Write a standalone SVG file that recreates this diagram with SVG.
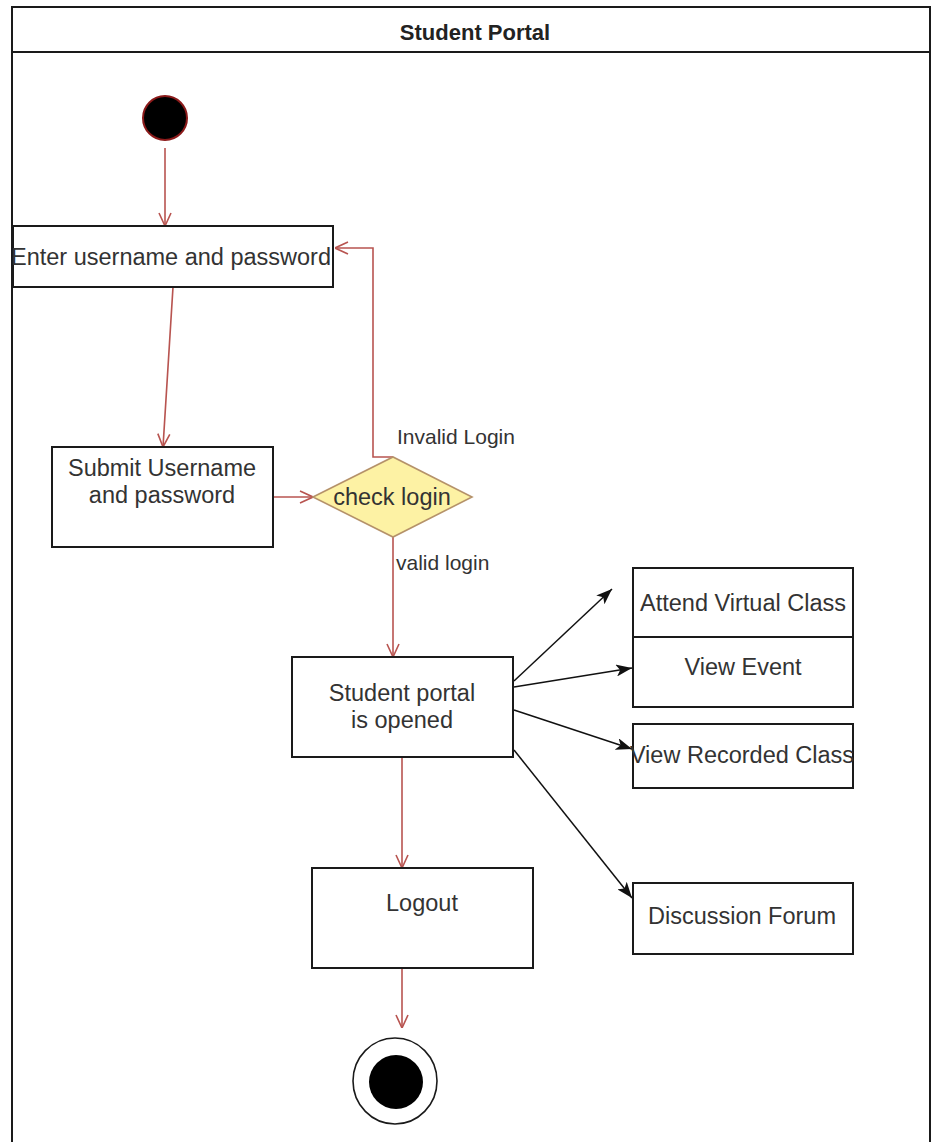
<svg xmlns="http://www.w3.org/2000/svg" width="931" height="1142" viewBox="0 0 931 1142">
  <style>
    .box { fill: #ffffff; stroke: #1a1a1a; stroke-width: 2; }
    .lbl { font-family: "Liberation Sans", Arial, sans-serif; font-size: 23.5px; fill: #333333; text-anchor: middle; }
    .edge-lbl { font-family: "Liberation Sans", Arial, sans-serif; font-size: 21px; fill: #333333; }
    .title { font-family: "Liberation Sans", Arial, sans-serif; font-size: 22px; font-weight: bold; fill: #222222; text-anchor: middle; }
    .flow { fill: none; stroke: #b85450; stroke-width: 1.6; }
    .branch { fill: none; stroke: #111111; stroke-width: 1.5; }
  </style>
  <defs>
    <marker id="openRed" viewBox="0 0 14 14" refX="14" refY="7" markerWidth="14" markerHeight="14" markerUnits="userSpaceOnUse" orient="auto">
      <path d="M1,1 L14,7 L1,13" fill="none" stroke="#b85450" stroke-width="1.6"/>
    </marker>
    <marker id="solidBlack" viewBox="0 0 16 12" refX="16" refY="6" markerWidth="16" markerHeight="12" markerUnits="userSpaceOnUse" orient="auto">
      <path d="M0,0 L16,6 L0,12 L4,6 Z" fill="#111111"/>
    </marker>
  </defs>

  <rect width="931" height="1142" fill="#ffffff"/>

  <!-- swimlane frame -->
  <g id="lane">
    <rect x="12" y="7" width="918" height="1150" fill="none" stroke="#1a1a1a" stroke-width="2"/>
    <line x1="12" y1="52" x2="930" y2="52" stroke="#1a1a1a" stroke-width="2"/>
    <text class="title" x="475" y="40">Student Portal</text>
  </g>

  <!-- connectors -->
  <g id="connectors">
    <line class="flow" x1="165" y1="148" x2="165" y2="226" marker-end="url(#openRed)"/>
    <line class="flow" x1="173" y1="287" x2="163" y2="447" marker-end="url(#openRed)"/>
    <line class="flow" x1="273" y1="497" x2="313" y2="497" marker-end="url(#openRed)"/>
    <polyline class="flow" points="393,457 373,457 373,248 335,248" marker-end="url(#openRed)"/>
    <line class="flow" x1="393" y1="537" x2="393" y2="657" marker-end="url(#openRed)"/>
    <line class="flow" x1="402" y1="757" x2="402" y2="868" marker-end="url(#openRed)"/>
    <line class="flow" x1="402" y1="968" x2="402" y2="1028" marker-end="url(#openRed)"/>

    <line class="branch" x1="514" y1="681" x2="612" y2="589" marker-end="url(#solidBlack)"/>
    <line class="branch" x1="514" y1="687" x2="632" y2="668" marker-end="url(#solidBlack)"/>
    <line class="branch" x1="514" y1="710" x2="632" y2="749" marker-end="url(#solidBlack)"/>
    <line class="branch" x1="514" y1="750" x2="632" y2="898" marker-end="url(#solidBlack)"/>

    <text class="edge-lbl" x="397" y="444">Invalid Login</text>
    <text class="edge-lbl" x="396" y="570">valid login</text>
  </g>

  <!-- nodes -->
  <g id="start">
    <circle cx="165" cy="118" r="22" fill="#000000" stroke="#8b1a1a" stroke-width="2"/>
  </g>

  <g id="enter-credentials">
    <rect class="box" x="13" y="226" width="320" height="61"/>
    <text class="lbl" x="171" y="265">Enter username and password</text>
  </g>

  <g id="submit-credentials">
    <rect class="box" x="52" y="447" width="221" height="100"/>
    <text class="lbl" x="162" y="476">Submit Username</text>
    <text class="lbl" x="162" y="503">and password</text>
  </g>

  <g id="check-login">
    <polygon points="313,497 393,457 472,497 393,537" fill="#fdf2a4" stroke="#b5926a" stroke-width="1.6"/>
    <text class="lbl" x="392" y="505">check login</text>
  </g>

  <g id="portal-opened">
    <rect class="box" x="292" y="657" width="221" height="100"/>
    <text class="lbl" x="402" y="701">Student portal</text>
    <text class="lbl" x="402" y="728">is opened</text>
  </g>

  <g id="attend-virtual-class">
    <rect class="box" x="633" y="568" width="220" height="69"/>
    <text class="lbl" x="743" y="611">Attend Virtual Class</text>
  </g>

  <g id="view-event">
    <rect class="box" x="633" y="637" width="220" height="70"/>
    <text class="lbl" x="743" y="675">View Event</text>
  </g>

  <g id="view-recorded-class">
    <rect class="box" x="633" y="724" width="220" height="64"/>
    <text class="lbl" x="742" y="763">View Recorded Class</text>
  </g>

  <g id="discussion-forum">
    <rect class="box" x="633" y="883" width="220" height="71"/>
    <text class="lbl" x="742" y="924">Discussion Forum</text>
  </g>

  <g id="logout">
    <rect class="box" x="312" y="868" width="221" height="100"/>
    <text class="lbl" x="422" y="911">Logout</text>
  </g>

  <g id="end">
    <ellipse cx="395" cy="1081" rx="42" ry="43" fill="#ffffff" stroke="#1a1a1a" stroke-width="1.6"/>
    <circle cx="396" cy="1082" r="27" fill="#000000"/>
  </g>
</svg>
